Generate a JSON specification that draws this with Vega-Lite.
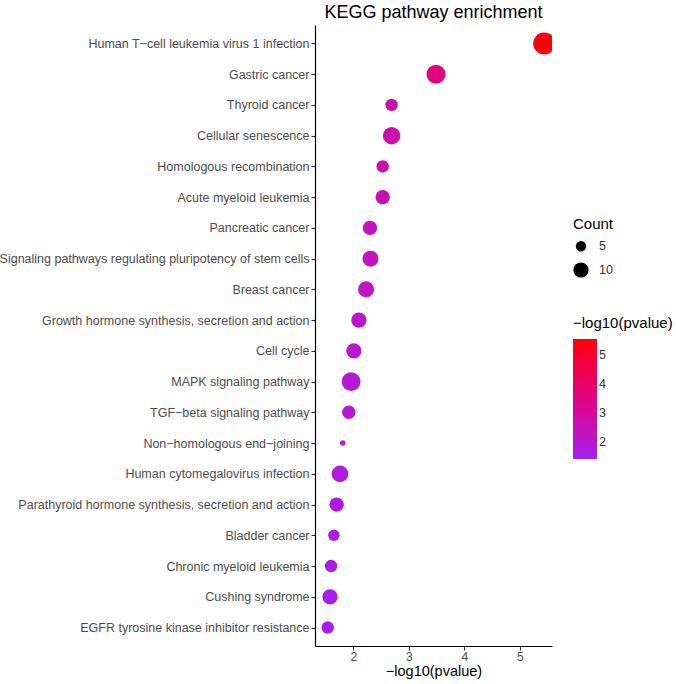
{
  "$schema": "https://vega.github.io/schema/vega-lite/v6.json",
  "autosize": {"type": "none"},
  "width": 237,
  "height": 621,
  "padding": {"left": 315, "top": 25, "right": 124, "bottom": 38},
  "background": "white",
  "title": {"text": "KEGG pathway enrichment", "fontSize": 18, "fontWeight": "normal", "color": "black", "anchor": "middle", "offset": 3},
  "data": {"values": [
    {"term": "Human T−cell leukemia virus 1 infection", "p": 5.44, "count": 20},
    {"term": "Gastric cancer", "p": 3.49, "count": 15},
    {"term": "Thyroid cancer", "p": 2.69, "count": 7},
    {"term": "Cellular senescence", "p": 2.69, "count": 13},
    {"term": "Homologous recombination", "p": 2.53, "count": 7},
    {"term": "Acute myeloid leukemia", "p": 2.53, "count": 9},
    {"term": "Pancreatic cancer", "p": 2.3, "count": 9},
    {"term": "Signaling pathways regulating pluripotency of stem cells", "p": 2.31, "count": 11},
    {"term": "Breast cancer", "p": 2.23, "count": 11},
    {"term": "Growth hormone synthesis, secretion and action", "p": 2.1, "count": 10},
    {"term": "Cell cycle", "p": 2.01, "count": 10},
    {"term": "MAPK signaling pathway", "p": 1.96, "count": 15},
    {"term": "TGF−beta signaling pathway", "p": 1.92, "count": 8},
    {"term": "Non−homologous end−joining", "p": 1.81, "count": 2},
    {"term": "Human cytomegalovirus infection", "p": 1.76, "count": 12},
    {"term": "Parathyroid hormone synthesis, secretion and action", "p": 1.7, "count": 9},
    {"term": "Bladder cancer", "p": 1.65, "count": 6},
    {"term": "Chronic myeloid leukemia", "p": 1.6, "count": 7},
    {"term": "Cushing syndrome", "p": 1.58, "count": 10},
    {"term": "EGFR tyrosine kinase inhibitor resistance", "p": 1.54, "count": 7}
  ]},
  "mark": {"type": "circle", "opacity": 1, "clip": true},
  "encoding": {
    "x": {"field": "p", "type": "quantitative",
      "scale": {"domain": [1.31, 5.58], "nice": false, "zero": false},
      "axis": {"values": [2, 3, 4, 5], "title": "−log10(pvalue)", "grid": false, "labelFontSize": 12, "labelPadding": 1, "titlePadding": 2, "titleFontSize": 14.5}},
    "y": {"field": "term", "type": "nominal", "sort": null,
      "scale": {"type": "point", "padding": 0.6},
      "axis": {"title": null, "grid": false, "labelLimit": 0}},
    "size": {"field": "count", "type": "quantitative",
      "scale": {"domain": [2, 20], "range": [30, 484], "zero": false},
      "legend": {"title": "Count", "values": [5, 10], "orient": "none", "legendX": 258, "legendY": 192, "symbolFillColor": "black", "symbolStrokeWidth": 0, "rowPadding": 9, "labelOffset": 10}},
    "color": {"field": "p", "type": "quantitative",
      "scale": {"domain": [1.42, 5.57], "range": ["#A020F0", "#FF0000"], "interpolate": "lab"},
      "legend": {"title": "−log10(pvalue)", "orient": "none", "legendX": 258, "legendY": 291, "gradientLength": 120, "gradientThickness": 24, "values": [2, 3, 4, 5], "direction": "vertical"}}
  },
  "config": {
    "font": "Liberation Sans",
    "view": {"stroke": null},
    "axis": {
      "labelFontSize": 12.5, "labelColor": "#4D4D4D", "tickColor": "#333333", "tickSize": 4, "tickWidth": 1.1,
      "domainColor": "black", "domainWidth": 1.2, "labelPadding": 2,
      "titleFontSize": 15, "titleFontWeight": "normal", "titleColor": "black", "titlePadding": 2
    },
    "legend": {
      "titleFontSize": 15, "titleFontWeight": "normal", "titleColor": "black", "titlePadding": 8,
      "labelFontSize": 12.5, "labelColor": "#333333", "labelOffset": 6,
      "gradientStrokeWidth": 0
    }
  }
}
